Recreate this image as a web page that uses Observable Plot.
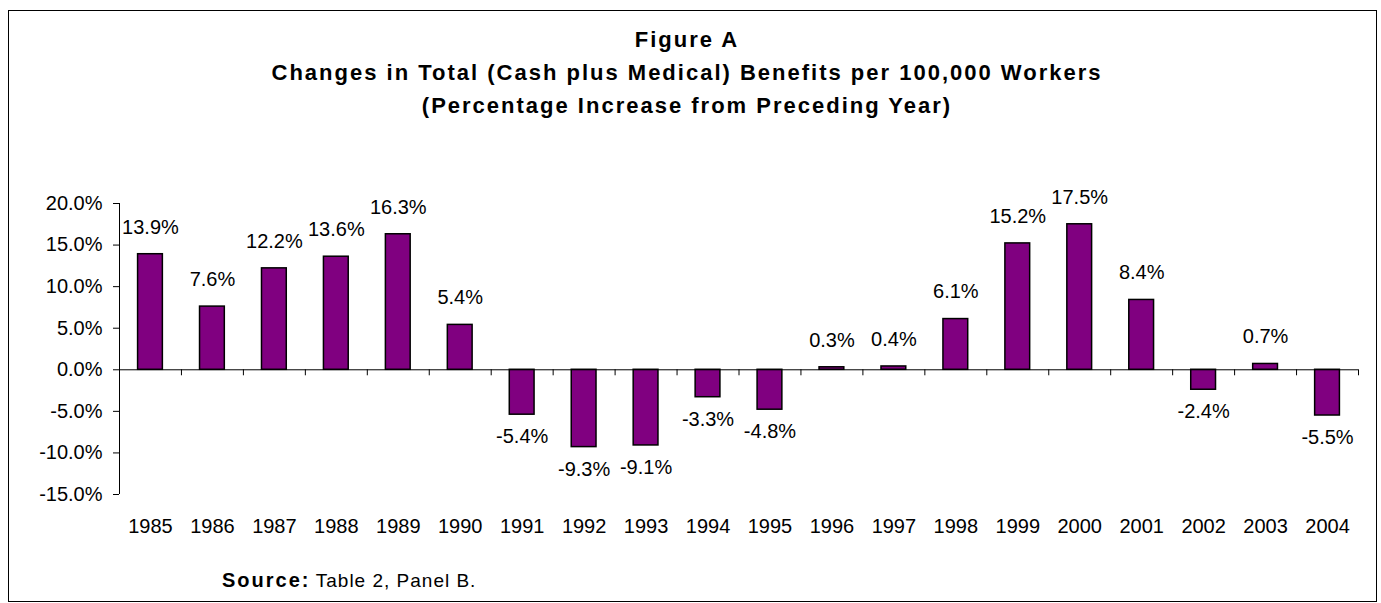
<!DOCTYPE html>
<html>
<head>
<meta charset="utf-8">
<script src="https://cdn.jsdelivr.net/npm/d3@7"></script>
<script src="https://cdn.jsdelivr.net/npm/@observablehq/plot@0.6"></script>
<style>
  html, body { margin: 0; padding: 0; background: #fff; }
  body { width: 1381px; height: 603px; position: relative; overflow: hidden; font-family: "Liberation Sans", Arial, sans-serif; color: #000; }
  #frame { position: absolute; left: 8px; top: 10px; width: 1369px; height: 592px; box-sizing: border-box; border: 1.5px solid #000; }
  #chart { position: absolute; left: 0; top: 0; }
  #title { position: absolute; left: 0; width: 1374px; top: 23.4px; text-align: center; font-weight: bold; font-size: 22px; line-height: 33px; letter-spacing: 2px; }
  #source { position: absolute; left: 222px; top: 570px; font-size: 19px; line-height: 21px; white-space: nowrap; }
  #source b { font-size: 20px; letter-spacing: 2px; }
  #source span { letter-spacing: 1px; }
</style>
</head>
<body>
<div id="frame"></div>
<div id="chart"></div>
<div id="title">Figure A<br>Changes in Total (Cash plus Medical) Benefits per 100,000 Workers<br>(Percentage Increase from Preceding Year)</div>
<div id="source"><b>Source:</b> <span>Table 2, Panel B.</span></div>
<script>
const years = ["1985","1986","1987","1988","1989","1990","1991","1992","1993","1994","1995","1996","1997","1998","1999","2000","2001","2002","2003","2004"];
const changes = [13.9, 7.6, 12.2, 13.6, 16.3, 5.4, -5.4, -9.3, -9.1, -3.3, -4.8, 0.3, 0.4, 6.1, 15.2, 17.5, 8.4, -2.4, 0.7, -5.5];
const yTicks = [-15, -10, -5, 0, 5, 10, 15, 20];

const data = years.map((year, i) => ({year, value: changes[i]}));

const W = 1381, H = 603, ml = 119, mr = 23, mt = 203, mb = 109;
const step = (W - ml - mr) / years.length;
const pct = d => d.toFixed(1) + "%";

const chart = Plot.plot({
  width: W,
  height: H,
  marginLeft: ml,
  marginRight: mr,
  marginTop: mt,
  marginBottom: mb,
  style: {background: "transparent", fontFamily: "'Liberation Sans', Arial, sans-serif", fontSize: "20px", color: "#000"},
  x: {type: "band", domain: years, paddingInner: 0.6, paddingOuter: 0.3, align: 0.5, round: false},
  y: {domain: [-15, 20]},
  marks: [
    Plot.axisY({ticks: yTicks, tickSize: 6, tickPadding: 11, tickFormat: pct, label: null, fontSize: 20, stroke: "#000"}),
    Plot.axisX({tickSize: 0, tickPadding: 24, label: null, fontSize: 20}),
    Plot.ruleX([years[0]], {y1: -15, y2: 20, dx: -step / 2, stroke: "#000", strokeWidth: 1}),
    Plot.barY(data, {x: "year", y: "value", fill: "#800080", stroke: "#000", strokeWidth: 1.5}),
    Plot.ruleY([0], {stroke: "#000", strokeWidth: 1}),
    Plot.ruleX(years, {x: d => d, y1: 0, y2: 0, insetBottom: -6, dx: -step / 2, stroke: "#000", strokeWidth: 1}),
    Plot.ruleX([years[years.length - 1]], {y1: 0, y2: 0, insetBottom: -6, dx: step / 2, stroke: "#000", strokeWidth: 1}),
    Plot.text(data.filter(d => d.value >= 0), {x: "year", y: "value", text: d => pct(d.value), dy: -27, fontSize: 20, fill: "#000"}),
    Plot.text(data.filter(d => d.value < 0), {x: "year", y: "value", text: d => pct(d.value), dy: 22, fontSize: 20, fill: "#000"})
  ]
});
document.getElementById("chart").appendChild(chart);
</script>
</body>
</html>
